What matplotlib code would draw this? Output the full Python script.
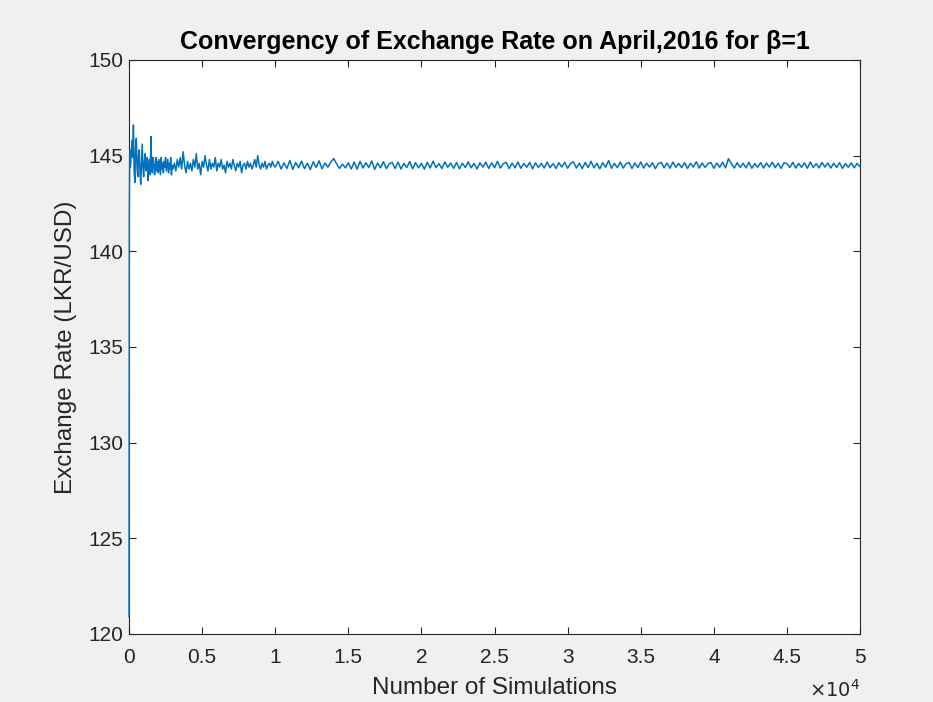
import numpy as np
import matplotlib.pyplot as plt
from matplotlib.ticker import FuncFormatter

plt.rcParams['font.family'] = ['Liberation Sans', 'DejaVu Sans']

# running estimate of the exchange rate against number of simulations
early_n = [1, 20] + list(range(50, 3001, 50))
early_rate = [120.9, 141.8,
              145.3, 144.4, 145.1, 145.8, 144.9, 146.6, 144.2, 143.6, 145.4, 145.9,
              144.3, 143.9, 145.0, 145.3, 144.1, 143.5, 144.6, 145.6, 144.4, 143.9,
              144.7, 145.1, 144.2, 144.5, 144.9, 143.7, 144.4, 144.8, 144.0, 146.0,
              144.3, 144.1, 144.9, 144.6, 144.0, 144.4, 144.9, 144.2, 144.7, 144.1,
              144.8, 144.4, 144.0, 144.9, 144.3, 144.6, 144.1, 144.7, 144.4, 144.9,
              144.2, 144.5, 144.8, 144.1, 144.6, 144.3, 144.9, 144.0, 144.5, 144.3]

mid_n = list(range(3100, 10001, 100))
mid_rate = [144.6, 144.2, 144.8, 144.4, 144.9, 144.3, 145.2, 144.5, 144.1, 144.7,
            144.3, 144.6, 144.2, 144.8, 144.4, 145.1, 144.3, 144.6, 144.0, 144.7,
            144.4, 145.0, 144.5, 144.2, 144.8, 144.3, 144.6, 144.4, 144.9, 144.2,
            144.6, 144.4, 144.8, 144.3, 144.5, 144.1, 144.7, 144.4, 144.6, 144.3,
            144.8, 144.5, 144.2, 144.6, 144.4, 144.7, 144.1, 144.5, 144.6, 144.3,
            144.7, 144.4, 144.6, 144.3, 144.5, 144.8, 144.4, 145.0, 144.5, 144.3,
            144.6, 144.4, 144.7, 144.3, 144.5, 144.6, 144.4, 144.7, 144.5, 144.4]

late_n = list(range(10200, 50001, 200))
late_rate = [144.70, 144.30, 144.62, 144.33, 144.75, 144.28, 144.64, 144.37, 144.71, 144.32,
             144.60, 144.27, 144.68, 144.38, 144.73, 144.31, 144.61, 144.40, 144.66, 144.85,
             144.57, 144.33, 144.55, 144.36, 144.62, 144.30, 144.66, 144.29, 144.70, 144.35,
             144.63, 144.38, 144.72, 144.28, 144.61, 144.36, 144.68, 144.32, 144.58, 144.64,
             144.33, 144.66, 144.30, 144.59, 144.38, 144.69, 144.31, 144.63, 144.36, 144.60,
             144.29, 144.65, 144.35, 144.71, 144.37, 144.58, 144.32, 144.67, 144.39, 144.61,
             144.34, 144.64, 144.31, 144.60, 144.38, 144.68, 144.36, 144.59, 144.30, 144.63,
             144.40, 144.66, 144.33, 144.62, 144.37, 144.70, 144.35, 144.58, 144.65, 144.32,
             144.61, 144.36, 144.67, 144.34, 144.59, 144.39, 144.64, 144.31, 144.62, 144.38,
             144.60, 144.35, 144.66, 144.37, 144.58, 144.33, 144.63, 144.40, 144.65, 144.34,
             144.59, 144.68, 144.35, 144.61, 144.32, 144.64, 144.38, 144.70, 144.36, 144.60,
             144.31, 144.63, 144.39, 144.74, 144.34, 144.59, 144.37, 144.66, 144.35, 144.58,
             144.64, 144.33, 144.61, 144.38, 144.67, 144.35, 144.60, 144.40, 144.63, 144.32,
             144.58, 144.65, 144.36, 144.61, 144.34, 144.66, 144.39, 144.59, 144.37, 144.63,
             144.33, 144.60, 144.40, 144.68, 144.35, 144.62, 144.38, 144.58, 144.64, 144.34,
             144.61, 144.39, 144.66, 144.36, 144.84, 144.58, 144.35, 144.63, 144.38, 144.60,
             144.36, 144.65, 144.34, 144.59, 144.39, 144.64, 144.35, 144.61, 144.40, 144.66,
             144.37, 144.60, 144.33, 144.63, 144.58, 144.38, 144.65, 144.35, 144.59, 144.39,
             144.62, 144.34, 144.67, 144.38, 144.58, 144.36, 144.64, 144.40, 144.61, 144.35,
             144.60, 144.38, 144.63, 144.33, 144.58, 144.39, 144.62, 144.36, 144.59, 144.42]

n_sims = early_n + mid_n + late_n
rate = early_rate + mid_rate + late_rate

fig = plt.figure(figsize=(9.33, 7.02), dpi=100, facecolor='#f0f0f0')
ax = fig.add_axes([0.1383, 0.0969, 0.7835, 0.8177])
ax.plot(n_sims, rate, color='#0072BD', lw=1.1, zorder=3, clip_on=False)

ax.set_xlim(0, 50000)
ax.set_ylim(120, 150)
ax.set_xticks(np.arange(0, 50001, 5000))
ax.set_yticks(np.arange(120, 151, 5))
ax.xaxis.set_major_formatter(FuncFormatter(lambda v, p: '%g' % (v / 1e4)))
ax.tick_params(direction='in', length=5, width=0.8, top=True, right=True,
               labelsize=15, colors='#262626')
ax.tick_params(axis='x', pad=10)
ax.tick_params(axis='y', pad=4)
for s in ax.spines.values():
    s.set_color('#262626')
    s.set_linewidth(0.8)

ax.set_title('Convergency of Exchange Rate on April,2016 for β=1',
             fontsize=18, fontweight='bold', pad=8)
ax.set_xlabel('Number of Simulations', fontsize=17.5, color='#262626', labelpad=7)
ax.set_ylabel('Exchange Rate (LKR/USD)', fontsize=17.5, color='#262626', labelpad=8)
ax.text(1.0, -0.11, r'$\times10^4$', transform=ax.transAxes, ha='right',
        va='baseline', fontsize=14, color='#262626')

fig.savefig('out.png', dpi=100, facecolor=fig.get_facecolor())
